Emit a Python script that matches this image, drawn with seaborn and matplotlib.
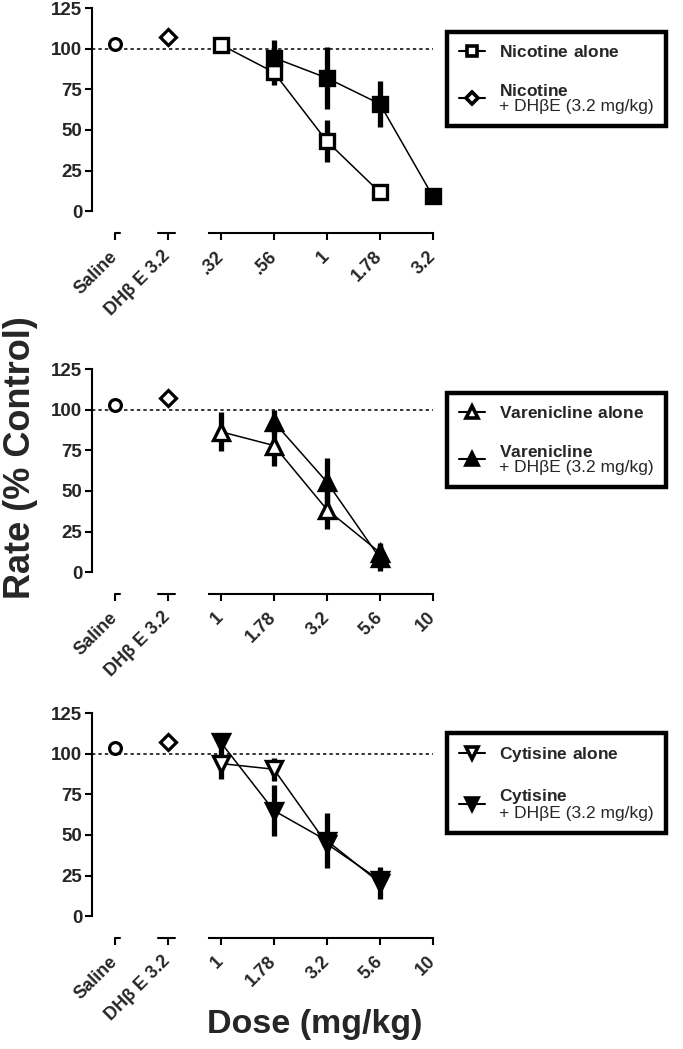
import matplotlib
matplotlib.use("Agg")
import matplotlib.pyplot as plt
from matplotlib.lines import Line2D
import seaborn as sns

sns.set_theme(style="ticks")
plt.rcParams["font.family"] = ["Liberation Sans", "DejaVu Sans"]
plt.rcParams["mathtext.fontset"] = "custom"
plt.rcParams["mathtext.rm"] = "Liberation Sans"
plt.rcParams["mathtext.bf"] = "Liberation Sans:bold"

# x categories (evenly spaced, half-log dose steps)
nic_ticks = ["Saline", "DHβ E 3.2", ".32", ".56", "1", "1.78", "3.2"]
var_ticks = ["Saline", "DHβ E 3.2", "1", "1.78", "3.2", "5.6", "10"]
cyt_ticks = ["Saline", "DHβ E 3.2", "1", "1.78", "3.2", "5.6", "10"]
y_ticks = [0, 25, 50, 75, 100, 125]

# control points per panel (nicotine, varenicline, cytisine)
saline_rate = [103, 103, 103.5]
dhbe_rate = [107.5, 107, 107.5]

nic_alone_dose = [".32", ".56", "1", "1.78"]
nic_alone_rate = [102.5, 85.5, 43, 11.5]
nic_alone_sem = [2, 7.5, 13, 3.5]
nic_dhbe_dose = [".56", "1", "1.78", "3.2"]
nic_dhbe_rate = [94.5, 82, 66, 9]
nic_dhbe_sem = [11, 19, 14, 3.5]

var_alone_dose = ["1", "1.78", "3.2", "5.6"]
var_alone_rate = [86.5, 78, 38.5, 12]
var_alone_sem = [12, 12.5, 12, 6]
var_dhbe_dose = ["1.78", "3.2", "5.6"]
var_dhbe_rate = [92.5, 55.5, 8.5]
var_dhbe_sem = [7.5, 15, 8]

cyt_alone_dose = ["1", "1.78", "3.2", "5.6"]
cyt_alone_rate = [94, 90.5, 44.5, 22]
cyt_alone_sem = [9.5, 7, 3, 3]
cyt_dhbe_dose = ["1", "1.78", "3.2", "5.6"]
cyt_dhbe_rate = [107, 65, 46.5, 20.5]
cyt_dhbe_sem = [3, 15.5, 17, 10]

Y_BOTTOM = -13.5


def draw_series(ax, ticks, dose, rate, sem, marker, filled, ms):
    x = [ticks.index(d) for d in dose]
    ax.errorbar(x, rate, yerr=sem, fmt="none", ecolor="black", elinewidth=3.8,
                capsize=0, zorder=2, clip_on=False)
    sns.lineplot(x=x, y=rate, ax=ax, color="black", lw=1.1, errorbar=None,
                 marker=marker, markersize=ms, markeredgewidth=2.4,
                 markerfacecolor="black" if filled else "white",
                 markeredgecolor="black", zorder=3, clip_on=False)


def draw_panel(ax, ticks, idx, series, legend_items, anchor):
    ax.set_xlim(-0.43, 6)
    ax.set_ylim(Y_BOTTOM, 127)
    ax.axhline(100, color="black", lw=1.1, ls=(0, (2.2, 2)), zorder=1)

    ax.plot([0], [saline_rate[idx]], marker="o", ms=8.5, mew=2.3, mfc="white",
            mec="black", ls="none", zorder=3)
    ax.plot([1], [dhbe_rate[idx]], marker="D", ms=8, mew=2.3, mfc="white",
            mec="black", ls="none", zorder=3)
    for s in series:
        draw_series(ax, ticks, *s)

    sns.despine(ax=ax)
    ax.spines["left"].set_bounds(0, 125)
    ax.spines["bottom"].set_bounds(1.77, 6)
    for sp in ("left", "bottom"):
        ax.spines[sp].set_linewidth(1.5)
        ax.spines[sp].set_color("black")
    # broken segments of the x axis for the control points
    ax.plot([0, 0.1], [Y_BOTTOM, Y_BOTTOM], color="black", lw=1.5, clip_on=False)
    ax.plot([0.81, 1.13], [Y_BOTTOM, Y_BOTTOM], color="black", lw=1.5, clip_on=False)

    ax.set_yticks(y_ticks)
    ax.set_yticklabels([str(t) for t in y_ticks], fontsize=13.5, fontweight="bold")
    ax.set_xticks(range(len(ticks)))
    ax.set_xticklabels(ticks, fontsize=13, fontweight="bold", rotation=45,
                       ha="right", va="center", rotation_mode="anchor")
    ax.tick_params(axis="both", length=5, width=1.5, color="black", pad=2)
    ax.tick_params(axis="x", pad=10)
    ax.set_xlabel("")
    ax.set_ylabel("")

    handles = [Line2D([], [], color="black", lw=1.5, marker=m, ms=ms, mew=2.6,
                      mfc="black" if f else "white", mec="black")
               for m, f, ms, _ in legend_items]
    labels = [lab for *_, lab in legend_items]
    leg = ax.legend(handles, labels, loc="upper left", bbox_to_anchor=anchor,
                    bbox_transform=ax.figure.transFigure, fontsize=12.5,
                    frameon=True, fancybox=False, framealpha=1,
                    handlelength=1.5, handletextpad=0.8, labelspacing=1.3,
                    borderpad=0.7, borderaxespad=0)
    for t in leg.get_texts():
        t.set_linespacing(1.0)
    leg.get_frame().set_edgecolor("black")
    leg.get_frame().set_linewidth(3.2)


fig = plt.figure(figsize=(6.83, 10.49), dpi=100)
left, width = 92 / 683, 341 / 683
height = 228 / 1049
ax1 = fig.add_axes([left, 1 - 233 / 1049, width, height])
ax2 = fig.add_axes([left, 1 - 594 / 1049, width, height])
ax3 = fig.add_axes([left, 1 - 938 / 1049, width, height])

draw_panel(ax1, nic_ticks, 0,
           [(nic_alone_dose, nic_alone_rate, nic_alone_sem, "s", False, 10.5),
            (nic_dhbe_dose, nic_dhbe_rate, nic_dhbe_sem, "s", True, 10.5)],
           [("s", False, 7.5, r"$\mathbf{Nicotine\ alone}$"),
            ("D", False, 6.5, "$\\mathbf{Nicotine}$\n+ DHβE (3.2 mg/kg)")],
           (447 / 683, 1 - 32 / 1049))
draw_panel(ax2, var_ticks, 1,
           [(var_alone_dose, var_alone_rate, var_alone_sem, "^", False, 11),
            (var_dhbe_dose, var_dhbe_rate, var_dhbe_sem, "^", True, 11)],
           [("^", False, 8, r"$\mathbf{Varenicline\ alone}$"),
            ("^", True, 8, "$\\mathbf{Varenicline}$\n+ DHβE (3.2 mg/kg)")],
           (447 / 683, 1 - 393 / 1049))
draw_panel(ax3, cyt_ticks, 2,
           [(cyt_alone_dose, cyt_alone_rate, cyt_alone_sem, "v", False, 11.5),
            (cyt_dhbe_dose, cyt_dhbe_rate, cyt_dhbe_sem, "v", True, 11.5)],
           [("v", False, 8, r"$\mathbf{Cytisine\ alone}$"),
            ("v", True, 8, "$\\mathbf{Cytisine}$\n+ DHβE (3.2 mg/kg)")],
           (447 / 683, 1 - 733 / 1049))

fig.text(0.030, 0.564, "Rate (% Control)", rotation=90, ha="center", va="center",
         fontsize=26, fontweight="bold")
fig.text(0.461, 0.023, "Dose (mg/kg)", ha="center", va="center",
         fontsize=24.5, fontweight="bold")

fig.savefig("out.png", dpi=100)
